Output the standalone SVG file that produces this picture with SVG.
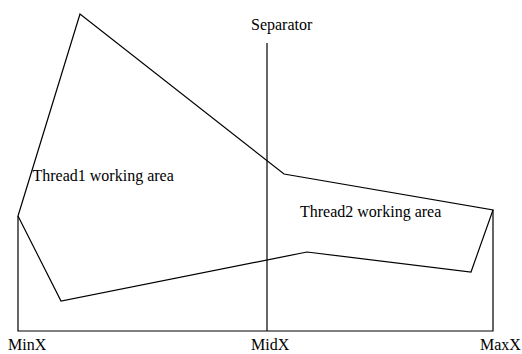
<svg xmlns="http://www.w3.org/2000/svg" width="522" height="354" viewBox="0 0 522 354">
<style>
.ln{fill:none;stroke:#000;stroke-width:1.2}
text{font-family:"Liberation Serif","Times New Roman",serif;font-size:16px;fill:#000}
</style>
<rect width="522" height="354" fill="#fff"/>
<g id="connectors">
<polyline class="ln" points="18,216 18,331 493,331 493,210"/>
<line class="ln" x1="267" y1="43" x2="267" y2="331"/>
</g>
<g id="area">
<polygon class="ln" points="80,14 18,216 61,301 307,252 471,272 493,210 284,174"/>
</g>
<g id="labels">
<text x="251" y="30">Separator</text>
<text x="32.5" y="181">Thread1 working area</text>
<text x="300" y="217">Thread2 working area</text>
<text x="8" y="350">MinX</text>
<text x="251" y="350">MidX</text>
<text x="480" y="350">MaxX</text>
</g>
</svg>
